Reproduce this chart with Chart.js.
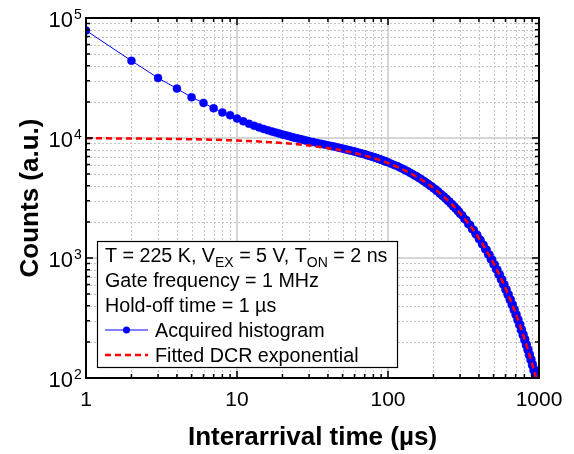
<!DOCTYPE html>
<html>
<head>
<meta charset="utf-8">
<script src="https://cdn.jsdelivr.net/npm/chart.js@4.4.1/dist/chart.umd.min.js"></script>
<style>
html,body{margin:0;padding:0;background:#fff;}
#wrap{width:574px;height:454px;}
</style>
</head>
<body>
<div id="wrap"><canvas id="c" width="574" height="454"></canvas></div>
<script>
// ---- data ----
const histTime = [1,2,3,4,5,6,7,8,9,10,11,12,13,14,15,16,17,18,19,20,21,22,23,24,25,26,27,28,29,30,
  32,34,36,38,40,42,44,46,48,50,52,54,56,58,60,62,64,66,68,70,72,74,76,78,80,82,84,86,88,90,92,94,96,98,100,
  105,110,115,120,125,130,135,140,145,150,155,160,165,170,175,180,185,190,195,200,
  205,210,215,220,225,230,235,240,245,250,255,260,265,270,275,280,285,290,295,300,
  310,320,330,340,350,360,370,380,390,400,410,420,430,440,450,460,470,480,490,500,
  510,520,530,540,550,560,570,580,590,600,610,620,630,640,650,660,670,680,690,700,
  710,720,730,740,750,760,770,780,790,800,810,820,830,840,850,860,870,880,890,900,
  910,920,930,940,950,960,970,980,990,1000];
const histCounts = [78700,44000,31660,25810,21860,19620,17670,16320,15480,14530,13790,13140,12640,12250,11900,11610,11350,11110,10900,10700,
  10530,10370,10210,10070,9940,9815,9700,9600,9500,9410,
  9245,9090,8950,8820,8700,8580,8475,8365,8260,8165,8070,7975,7885,7800,7710,7625,7540,7460,7380,7305,7225,7150,7080,7010,6940,6865,6800,6730,6660,6595,6525,6460,6395,6330,6265,
  6110,5950,5830,5670,5550,5390,5280,5130,5020,4880,4790,4650,4560,4420,4340,4210,4130,4000,3940,3810,
  3750,3630,3580,3450,3400,3290,3250,3130,3100,2980,2950,2840,2820,2700,2690,2580,2560,2460,2440,2340,
  2270,2120,2070,1920,1880,1745,1710,1585,1555,1440,1410,1305,1285,1185,1170,1075,1065,975,965,885,
  880,805,800,730,728,662,662,600,601,545,546,495,497,449,450,408,409,370,372,336,
  338,305,307,277,279,251,254,228,230,207,210,188,190,171,173,155,157,141,143,128,
  130,116,118,106,107,96,97,87,88,80];
const fitTime = [1,2,3,4,5,6,8,10,12,15,20,25,30,40,50,60,70,80,90,100,
  120,140,160,180,200,220,240,260,280,300,320,340,360,380,400,420,440,460,480,500,
  520,540,560,580,600,620,640,660,680,700,720,740,760,780,800,820,840,860,880,900,
  920,940,960,980,1000];
const fitCounts = [9952,9904,9857,9810,9762,9716,9623,9531,9439,9304,9083,8867,8657,8251,7864,7495,7143,6808,6488,6184,
  5616,5101,4634,4209,3823,3472,3154,2865,2602,2364,2147,1950,1771,1609,1462,1328,1206,1095,995,904,
  821,746,677,615,559,508,461,419,380,345,314,285,259,235,214,194,176,160,145,132,
  120,109,99,90,82];
const seriesNames = ['Acquired histogram','Fitted DCR exponential'];
const xTickValues = [1,10,100,1000];
const xTickLabels = ['1','10','100','1000'];
const yTickValues = [100,1000,10000,100000];
const yTickBase = '10';
const yTickExponents = ['2','3','4','5'];
const xTitle = 'Interarrival time (\u00b5s)';
const yTitle = 'Counts (a.u.)';
const infoLine1 = [['T = 225 K, V',0],['EX',1],[' = 5 V, T',0],['ON',1],[' = 2 ns',0]];
const infoLine2 = 'Gate frequency = 1 MHz';
const infoLine3 = 'Hold-off time = 1 \u00b5s';

const FONT = '"Liberation Sans", Arial, Helvetica, sans-serif';

function minorValues(lo, hi){
  const out=[];
  for(let d=lo; d<hi; d*=10){ for(let k=2;k<=9;k++) out.push(d*k); }
  return out;
}

const framePlugin = {
  id:'framePlugin',
  beforeDatasetsDraw(chart){
    const {ctx, chartArea:a, scales:{x,y}} = chart;
    ctx.save();
    ctx.beginPath(); ctx.rect(a.left,a.top,a.right-a.left,a.bottom-a.top); ctx.clip();
    ctx.strokeStyle='#c4c4c4'; ctx.lineWidth=1; ctx.setLineDash([2,2]);
    minorValues(1,1000).forEach(v=>{const p=Math.round(x.getPixelForValue(v))+0.5;ctx.beginPath();ctx.moveTo(p,a.top);ctx.lineTo(p,a.bottom);ctx.stroke();});
    minorValues(100,100000).forEach(v=>{const p=Math.round(y.getPixelForValue(v))+0.5;ctx.beginPath();ctx.moveTo(a.left,p);ctx.lineTo(a.right,p);ctx.stroke();});
    ctx.setLineDash([]); ctx.strokeStyle='#c8c8c8'; ctx.lineWidth=1.5;
    xTickValues.forEach(v=>{const p=x.getPixelForValue(v);ctx.beginPath();ctx.moveTo(p,a.top);ctx.lineTo(p,a.bottom);ctx.stroke();});
    yTickValues.forEach(v=>{const p=y.getPixelForValue(v);ctx.beginPath();ctx.moveTo(a.left,p);ctx.lineTo(a.right,p);ctx.stroke();});
    ctx.restore();
  },
  afterDatasetsDraw(chart){
    const {ctx, chartArea:a, scales:{x,y}} = chart;
    ctx.save();
    ctx.strokeStyle='#000'; ctx.lineWidth=1.5; ctx.setLineDash([]);
    const tick=(v,len,axis)=>{
      if(axis==='x'){const p=x.getPixelForValue(v);
        ctx.beginPath();ctx.moveTo(p,a.bottom);ctx.lineTo(p,a.bottom-len);ctx.moveTo(p,a.top);ctx.lineTo(p,a.top+len);ctx.stroke();}
      else {const p=y.getPixelForValue(v);
        ctx.beginPath();ctx.moveTo(a.left,p);ctx.lineTo(a.left+len,p);ctx.moveTo(a.right,p);ctx.lineTo(a.right-len,p);ctx.stroke();}
    };
    minorValues(1,1000).forEach(v=>tick(v,4,'x'));
    xTickValues.forEach(v=>tick(v,7,'x'));
    minorValues(100,100000).forEach(v=>tick(v,4,'y'));
    yTickValues.forEach(v=>tick(v,7,'y'));
    ctx.lineWidth=2; ctx.strokeStyle='#000';
    ctx.strokeRect(a.left,a.top,a.right-a.left,a.bottom-a.top);
    ctx.fillStyle='#000';
    yTickValues.forEach((v,i)=>{
      const p=y.getPixelForValue(v);
      ctx.font='22px '+FONT; ctx.textAlign='right'; ctx.textBaseline='alphabetic';
      ctx.fillText(yTickBase, 73, p+9);
      ctx.font='14px '+FONT; ctx.textAlign='left';
      ctx.fillText(yTickExponents[i], 74, p+1);
    });
    const bx=97, by=241, bw=300, bh=126;
    ctx.fillStyle='#fff'; ctx.fillRect(bx,by,bw,bh);
    ctx.lineWidth=1.2; ctx.strokeStyle='#000'; ctx.strokeRect(bx+0.5,by+0.5,bw,bh);
    ctx.fillStyle='#000'; ctx.textAlign='left'; ctx.textBaseline='alphabetic';
    let cx=105; const base1=262;
    infoLine1.forEach(([t,sub])=>{
      if(sub){ctx.font='14px '+FONT; ctx.fillText(t,cx,base1+5);}
      else {ctx.font='19.7px '+FONT; ctx.fillText(t,cx,base1);}
      cx+=ctx.measureText(t).width;
    });
    ctx.font='19.7px '+FONT;
    ctx.fillText(infoLine2,105,287);
    ctx.fillText(infoLine3,105,312);
    const ds=chart.data.datasets;
    ctx.strokeStyle=ds[0].borderColor; ctx.lineWidth=ds[0].borderWidth;
    ctx.beginPath(); ctx.moveTo(105,330); ctx.lineTo(148,330); ctx.stroke();
    ctx.fillStyle=ds[0].pointBackgroundColor; ctx.beginPath(); ctx.arc(126.5,330,3.5,0,Math.PI*2); ctx.fill();
    ctx.fillStyle='#000'; ctx.fillText(ds[0].label,155,337);
    ctx.strokeStyle=ds[1].borderColor; ctx.lineWidth=ds[1].borderWidth; ctx.setLineDash(ds[1].borderDash);
    ctx.beginPath(); ctx.moveTo(105,355); ctx.lineTo(148,355); ctx.stroke(); ctx.setLineDash([]);
    ctx.fillStyle='#000'; ctx.fillText(ds[1].label,155,362);
    ctx.restore();
  }
};

new Chart(document.getElementById('c'), {
  type:'line',
  data:{
    datasets:[
      {label:seriesNames[0], data:histTime.map((t,i)=>({x:t,y:histCounts[i]})),
       borderColor:'#0000ff', backgroundColor:'#0000ff', borderWidth:1,
       pointRadius:4, pointBackgroundColor:'#0000ff', pointBorderColor:'#0000ff', pointBorderWidth:0.5,
       tension:0, order:2},
      {label:seriesNames[1], data:fitTime.map((t,i)=>({x:t,y:fitCounts[i]})),
       borderColor:'#ff0000', borderWidth:2.5, borderDash:[6,4], pointRadius:0, tension:0, order:1}
    ]
  },
  options:{
    responsive:false, animation:false, devicePixelRatio:1,
    layout:{padding:{left:0,right:35,top:18,bottom:0}},
    plugins:{legend:{display:false}, tooltip:{enabled:false}},
    scales:{
      x:{type:'logarithmic', min:1, max:1000,
        grid:{display:false}, border:{display:false},
        ticks:{autoSkip:false, maxRotation:0, padding:2, color:'#000', font:{family:FONT,size:21},
          callback:(v)=>{const i=xTickValues.findIndex(t=>Math.abs(t-v)<1e-6*t); return i>=0?xTickLabels[i]:'';}},
        title:{display:true, text:xTitle, color:'#000', font:{family:FONT,size:26,weight:'bold'}, padding:{top:0,bottom:1}},
        afterFit:(s)=>{s.height=76;}
      },
      y:{type:'logarithmic', min:100, max:100000,
        grid:{display:false}, border:{display:false},
        ticks:{display:false},
        title:{display:true, text:yTitle, color:'#000', font:{family:FONT,size:26,weight:'bold'}, padding:{top:15,bottom:0}},
        afterFit:(s)=>{s.width=86;}
      }
    }
  },
  plugins:[framePlugin]
});
</script>
</body>
</html>
